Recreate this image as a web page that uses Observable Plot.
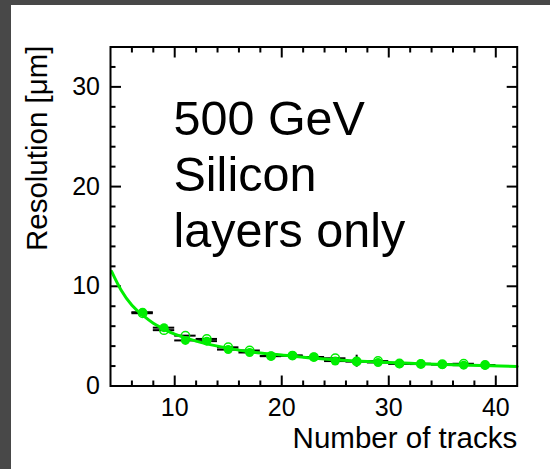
<!DOCTYPE html>
<html><head><meta charset="utf-8">
<script src="https://cdn.jsdelivr.net/npm/d3@7"></script>
<script src="https://cdn.jsdelivr.net/npm/@observablehq/plot@0.6"></script>
<style>
html,body{margin:0;padding:0;background:#484848;width:550px;height:469px;overflow:hidden}
#chart{position:absolute;left:11px;top:5px;width:539px;height:464px;background:#fff}
</style></head><body><div id="chart"></div>
<script>
const nTracks   = [7, 9, 11, 13, 15, 17, 19, 21, 23, 25, 27, 29, 31, 33, 35, 37, 39];
const resFilled = [7.4, 5.85, 4.57, 4.5, 3.65, 3.36, 3.0, 3.05, 2.9, 2.5, 2.49, 2.36, 2.23, 2.23, 2.16, 2.09, 2.09];
const errFilled = [0.2, 0.15, 0.15, 0.15, 0.15, 0.15, 0.15, 0.15, 0.15, 0.15, 0.6, 0.15, 0.1, 0.1, 0.1, 0.1, 0.1];
const resOpen   = [7.3, 5.6, 5.05, 4.72, 3.88, 3.56, 3.0, 3.05, 2.9, 2.78, 2.45, 2.5, 2.25, 2.2, 2.18, 2.23, 2.1];
const binHalfWidth = 1;
const fitN   = [4.1, 5, 6, 7, 8, 9, 10, 12, 14, 16, 18, 20, 24, 28, 32, 36, 42];
const fitRes = [11.5, 9.6, 8.1, 7.1, 6.3, 5.7, 5.2, 4.5, 4.0, 3.6, 3.3, 3.1, 2.7, 2.45, 2.27, 2.13, 1.96];
const xMajorTicks = [10, 20, 30, 40];
const xMinorTicks = [6, 8, 12, 14, 16, 18, 22, 24, 26, 28, 32, 34, 36, 38];
const yMajorTicks = [0, 10, 20, 30];
const yMinorTicks = [2, 4, 6, 8, 12, 14, 16, 18, 22, 24, 26, 28, 32];
const xLabel = "Number of tracks";
const yLabel = "Resolution [μm]";
const annotation = ["500 GeV", "Silicon", "layers only"];

const green = "#00ee00";
const filled = nTracks.map((n, i) => ({n, r: resFilled[i], e: errFilled[i]}));
const open = nTracks.map((n, i) => ({n, r: resOpen[i]}));
const fit = fitN.map((n, i) => ({n, r: fitRes[i]}));
const font = "'Liberation Sans', Arial, Helvetica, sans-serif";
const blank = () => "";

const plot = Plot.plot({
  width: 539, height: 464,
  marginLeft: 99, marginRight: 33.3, marginTop: 41.5, marginBottom: 83.5,
  style: {fontFamily: font, background: "white", color: "black", overflow: "visible"},
  x: {domain: [4, 42]},
  y: {domain: [0, 34]},
  marks: [
    Plot.axisX({anchor: "bottom", ticks: xMajorTicks, tickSize: 0, tickPadding: 12, fontSize: 25, label: null}),
    Plot.axisY({anchor: "left", ticks: yMajorTicks, tickSize: 0, tickPadding: 10.5, fontSize: 25, label: null}),
    ...["bottom", "top"].flatMap(a => [
      Plot.axisX({anchor: a, ticks: xMajorTicks, tickSize: -10, tickFormat: blank, label: null, strokeWidth: 2}),
      Plot.axisX({anchor: a, ticks: xMinorTicks, tickSize: -5, tickFormat: blank, label: null, strokeWidth: 2})
    ]),
    ...["left", "right"].flatMap(a => [
      Plot.axisY({anchor: a, ticks: yMajorTicks, tickSize: -11, tickFormat: blank, label: null, strokeWidth: 2}),
      Plot.axisY({anchor: a, ticks: yMinorTicks, tickSize: -5.5, tickFormat: blank, label: null, strokeWidth: 2})
    ]),
    Plot.ruleY(filled, {y: "r", x1: d => d.n - binHalfWidth, x2: d => d.n + binHalfWidth, stroke: "black", strokeWidth: 2}),
    Plot.ruleY(open, {y: "r", x1: d => d.n - binHalfWidth, x2: d => d.n + binHalfWidth, stroke: "black", strokeWidth: 2}),
    Plot.ruleX(filled, {x: "n", y1: d => d.r - d.e, y2: d => d.r + d.e, stroke: "black", strokeWidth: 2}),
    Plot.line(fit, {x: "n", y: "r", stroke: green, strokeWidth: 3, curve: "natural"}),
    Plot.dot(filled, {x: "n", y: "r", r: 4.5, fill: green, stroke: "none"}),
    Plot.dot(open, {x: "n", y: "r", r: 4.2, fill: "none", stroke: green, strokeWidth: 1.5}),
    Plot.frame({stroke: "black", strokeWidth: 2}),
    Plot.text([annotation.join("\n")], {frameAnchor: "top-left", text: d => d, textAnchor: "start", lineAnchor: "top",
      fontSize: 48.5, lineHeight: 1.15, dx: 63, dy: 48.5, fill: "black"}),
    Plot.text([xLabel], {frameAnchor: "bottom-right", text: d => d, textAnchor: "end", lineAnchor: "middle",
      fontSize: 29.5, dy: 52.5, fill: "black"}),
    Plot.text([yLabel], {frameAnchor: "top-left", text: d => d, textAnchor: "end", lineAnchor: "middle", rotate: -90,
      fontSize: 29.5, dx: -72.8, dy: -1.5, fill: "black"})
  ]
});
document.getElementById("chart").appendChild(plot);
</script>
</body></html>
